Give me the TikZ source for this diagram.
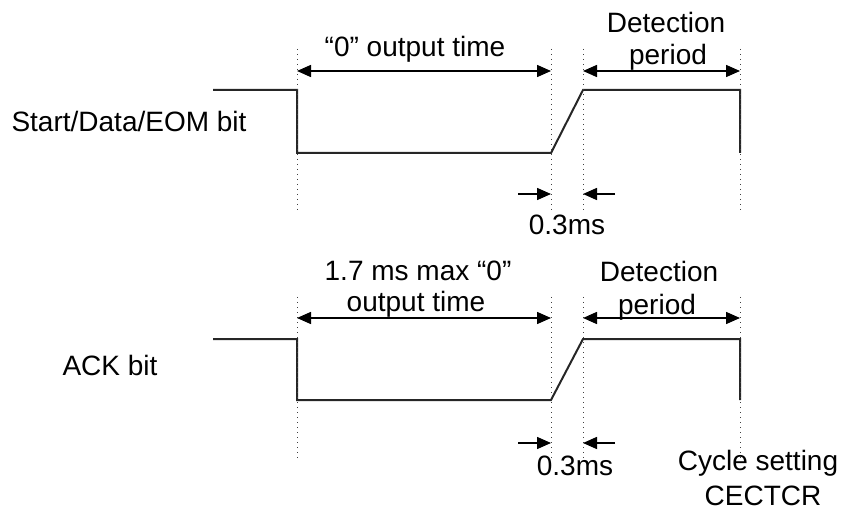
\documentclass[tikz,border=0pt]{standalone}
\usepackage{fontspec}
\setmainfont{Liberation Sans}
\usetikzlibrary{arrows.meta}
\tikzset{
	wave/.style={line width=2pt, black!85, line join=miter},
	guide/.style={black!75, line width=1pt, dash pattern=on 1pt off 4pt},
	span/.style={{Triangle[length=14pt,width=12pt]}-{Triangle[length=14pt,width=12pt]}, line width=1.5pt},
	tick/.style={-{Triangle[length=14pt,width=12pt]}, line width=1.5pt},
	txt/.style={font=\fontsize{28}{32}\selectfont, inner sep=0pt, anchor=base}
}

\begin{document}
\begin{tikzpicture}[x=1pt, y=-1pt]
	\useasboundingbox (0,0) rectangle (845,510);
	
	% Start/Data/EOM bit
	\node(sig1) at (129,132) [txt] {Start/Data/EOM bit};
	\coordinate(s0) at (213,90);
	\coordinate(s1) at (297,90);
	\coordinate(s2) at (297,153);
	\coordinate(s3) at (551,153);
	\coordinate(s4) at (583,90);
	\coordinate(s5) at (740,90);
	\coordinate(s6) at (740,153);
	\draw[wave] (s0) -- (s1) -- (s2) -- (s3) -- (s4) -- (s5) -- (s6);
	
	\draw[guide] (297,49) -- (297,210);
	\draw[guide] (551,49) -- (551,210);
	\draw[guide] (583,49) -- (583,210);
	\draw[guide] (740,49) -- (740,210);
	
	\coordinate(o1a) at (297,71);
	\coordinate(o1b) at (551,71);
	\coordinate(d1a) at (583,71);
	\coordinate(d1b) at (740,71);
	\draw[span] (o1a) -- (o1b);
	\draw[span] (d1a) -- (d1b);
	\node(out1) at (415,57) [txt] {“0” output time};
	\node(det1) at (666,33) [txt] {Detection};
	\node(per1) at (668,65) [txt] {period};
	
	\coordinate(r1a) at (518,194);
	\coordinate(r1b) at (551,194);
	\coordinate(r1c) at (615,194);
	\coordinate(r1d) at (583,194);
	\draw[tick] (r1a) -- (r1b);
	\draw[tick] (r1c) -- (r1d);
	\node(rise1) at (567,235) [txt] {0.3ms};
	
	% ACK bit
	\node(sig2) at (110,375) [txt] {ACK bit};
	\coordinate(k0) at (213,339);
	\coordinate(k1) at (297,339);
	\coordinate(k2) at (297,400);
	\coordinate(k3) at (551,400);
	\coordinate(k4) at (583,339);
	\coordinate(k5) at (740,339);
	\coordinate(k6) at (740,400);
	\draw[wave] (k0) -- (k1) -- (k2) -- (k3) -- (k4) -- (k5) -- (k6);
	
	\draw[guide] (297,297) -- (297,458);
	\draw[guide] (551,297) -- (551,458);
	\draw[guide] (583,297) -- (583,458);
	\draw[guide] (740,297) -- (740,458);
	
	\coordinate(o2a) at (297,318);
	\coordinate(o2b) at (551,318);
	\coordinate(d2a) at (583,318);
	\coordinate(d2b) at (740,318);
	\draw[span] (o2a) -- (o2b);
	\draw[span] (d2a) -- (d2b);
	\node(out2a) at (418,280) [txt] {1.7 ms max “0”};
	\node(out2b) at (416,312) [txt] {output time};
	\node(det2) at (659,282) [txt] {Detection};
	\node(per2) at (657,314) [txt] {period};
	
	\coordinate(r2a) at (518,443);
	\coordinate(r2b) at (551,443);
	\coordinate(r2c) at (615,443);
	\coordinate(r2d) at (583,443);
	\draw[tick] (r2a) -- (r2b);
	\draw[tick] (r2c) -- (r2d);
	\node(rise2) at (575,475) [txt] {0.3ms};
	
	\node(cyc) at (758,470) [txt] {Cycle setting};
	\node(reg) at (763,505) [txt] {CECTCR};
\end{tikzpicture}
\end{document}
